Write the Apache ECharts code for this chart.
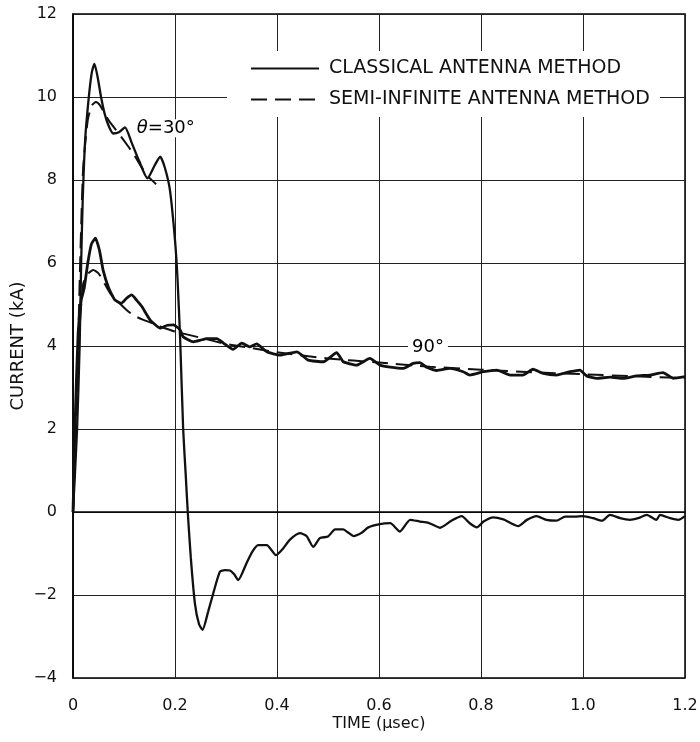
<!DOCTYPE html>
<html>
<head>
<meta charset="utf-8">
<script src="https://cdn.jsdelivr.net/npm/echarts@6/dist/echarts.min.js"></script>
<style>html,body{margin:0;padding:0;background:#fff}#c{width:700px;height:742px}</style>
</head>
<body>
<div id="c"></div>
<script>
// Classical antenna method, theta = 30 deg
const cl30_t = [0, 0.008, 0.013, 0.016, 0.019, 0.024, 0.031, 0.037, 0.042, 0.048, 0.055, 0.062, 0.07, 0.079, 0.09, 0.102, 0.115, 0.13, 0.146, 0.16, 0.171, 0.18, 0.19, 0.2, 0.205, 0.21, 0.216, 0.221, 0.225, 0.231, 0.239, 0.247, 0.254, 0.265, 0.275, 0.288, 0.298, 0.308, 0.316, 0.324, 0.34, 0.352, 0.363, 0.38, 0.398, 0.412, 0.425, 0.445, 0.458, 0.471, 0.484, 0.5, 0.514, 0.53, 0.54, 0.55, 0.566, 0.579, 0.602, 0.622, 0.641, 0.661, 0.68, 0.697, 0.72, 0.742, 0.762, 0.778, 0.792, 0.805, 0.824, 0.844, 0.857, 0.873, 0.89, 0.909, 0.928, 0.948, 0.965, 0.984, 1.0, 1.02, 1.037, 1.053, 1.073, 1.092, 1.108, 1.125, 1.144, 1.151, 1.171, 1.187, 1.2];
const cl30_i = [0, 2, 4, 6, 7.5, 9, 10, 10.6, 10.8, 10.5, 10, 9.6, 9.3, 9.12, 9.15, 9.27, 8.9, 8.45, 8.04, 8.35, 8.56, 8.3, 7.76, 6.55, 5.6, 4.2, 2.0, 0.9, 0.0, -1.1, -2.2, -2.7, -2.84, -2.4, -1.96, -1.44, -1.4, -1.41, -1.5, -1.64, -1.24, -0.95, -0.8, -0.8, -1.04, -0.88, -0.67, -0.51, -0.58, -0.84, -0.63, -0.59, -0.42, -0.42, -0.5, -0.58, -0.5, -0.37, -0.29, -0.27, -0.47, -0.19, -0.23, -0.26, -0.38, -0.21, -0.1, -0.27, -0.37, -0.23, -0.13, -0.18, -0.26, -0.34, -0.19, -0.1, -0.19, -0.21, -0.11, -0.11, -0.1, -0.15, -0.21, -0.07, -0.15, -0.19, -0.15, -0.07, -0.19, -0.07, -0.15, -0.19, -0.1];

// Semi-infinite antenna method, theta = 30 deg
const si30_t = [0, 0.008, 0.014, 0.02, 0.029, 0.037, 0.045, 0.053, 0.062, 0.072, 0.088, 0.1, 0.118, 0.138, 0.15, 0.163];
const si30_i = [0, 3, 6, 8.3, 9.45, 9.8, 9.88, 9.8, 9.6, 9.4, 9.15, 8.95, 8.64, 8.24, 8.05, 7.9];

// Classical antenna method, theta = 90 deg
const cl90_t = [0, 0.005, 0.01, 0.016, 0.022, 0.029, 0.036, 0.044, 0.052, 0.059, 0.07, 0.082, 0.095, 0.105, 0.115, 0.125, 0.135, 0.151, 0.171, 0.185, 0.197, 0.21, 0.216, 0.236, 0.25, 0.262, 0.282, 0.295, 0.314, 0.331, 0.347, 0.36, 0.38, 0.406, 0.439, 0.461, 0.491, 0.517, 0.53, 0.556, 0.582, 0.602, 0.622, 0.648, 0.667, 0.68, 0.693, 0.713, 0.739, 0.765, 0.778, 0.805, 0.831, 0.857, 0.882, 0.902, 0.922, 0.948, 0.975, 0.994, 1.007, 1.027, 1.053, 1.079, 1.105, 1.131, 1.157, 1.177, 1.2];
const cl90_i = [0, 2.5, 4.3, 5.1, 5.4, 6.0, 6.45, 6.6, 6.3, 5.83, 5.4, 5.11, 5.03, 5.15, 5.23, 5.1, 4.95, 4.63, 4.43, 4.5, 4.51, 4.39, 4.22, 4.1, 4.14, 4.18, 4.18, 4.07, 3.92, 4.07, 3.98, 4.05, 3.86, 3.78, 3.86, 3.66, 3.62, 3.84, 3.62, 3.54, 3.7, 3.54, 3.49, 3.46, 3.58, 3.6, 3.49, 3.41, 3.46, 3.38, 3.3, 3.38, 3.42, 3.3, 3.3, 3.44, 3.34, 3.3, 3.38, 3.42, 3.28, 3.22, 3.25, 3.22, 3.28, 3.3, 3.36, 3.22, 3.26];

// Semi-infinite antenna method, theta = 90 deg
const si90_t = [0, 0.012, 0.02, 0.03, 0.04, 0.05, 0.06, 0.073, 0.09, 0.105, 0.12, 0.138, 0.155, 0.171, 0.2, 0.25, 0.3, 0.35, 0.4, 0.5, 0.6, 0.7, 0.8, 0.9, 1.0, 1.1, 1.2];
const si90_i = [0, 4.2, 5.5, 5.75, 5.83, 5.75, 5.55, 5.27, 5.05, 4.87, 4.73, 4.63, 4.55, 4.47, 4.35, 4.2, 4.05, 3.95, 3.85, 3.7, 3.6, 3.5, 3.43, 3.37, 3.32, 3.27, 3.23];

// Curve annotations
const note_t = [0.182, 0.696];
const note_i = [9.25, 3.98];
const note_text = ['{i|θ}=30°', '90°'];

const xTicks = [0, 0.2, 0.4, 0.6, 0.8, 1.0, 1.2];
const yTicks = [-4, -2, 0, 2, 4, 6, 8, 10, 12];

const SOLID = 'CLASSICAL ANTENNA METHOD';
const DASHED = 'SEMI-INFINITE ANTENNA METHOD';
const FONT = 'DejaVu Sans';
const INK = '#111';

const zip = (t, v) => t.map((x, k) => [x, v[k]]);

const chart = echarts.init(document.getElementById('c'), null, {renderer: 'canvas'});
chart.setOption({
  backgroundColor: '#fff',
  animation: false,
  grid: {left: 73, right: 15, top: 14, bottom: 64, outerBoundsMode: 'none', containLabel: false,
    show: true, borderColor: '#000', borderWidth: 1.5, backgroundColor: 'transparent'},
  xAxis: {
    type: 'value', min: xTicks[0], max: xTicks[xTicks.length - 1], interval: 0.2,
    name: 'TIME (μsec)', nameLocation: 'middle', nameGap: 38, nameMoveOverlap: false,
    nameTextStyle: {fontFamily: FONT, fontSize: 16, color: INK},
    axisLine: {show: true, lineStyle: {color: '#000', width: 1.5}},
    axisTick: {show: false},
    axisLabel: {margin: 20, fontFamily: FONT, fontSize: 16, color: INK,
      formatter: v => Math.abs(v) < 1e-9 ? '0' : v.toFixed(1)},
    splitLine: {show: true, lineStyle: {color: '#222', width: 1}}
  },
  yAxis: {
    type: 'value', min: yTicks[0], max: yTicks[yTicks.length - 1], interval: 2,
    name: 'CURRENT (kA)', nameLocation: 'middle', nameGap: 46, nameRotate: 90, nameMoveOverlap: false,
    nameTextStyle: {fontFamily: FONT, fontSize: 18, color: INK},
    axisLine: {show: true, lineStyle: {color: '#000', width: 1.5}},
    axisTick: {show: false},
    axisLabel: {margin: 16, fontFamily: FONT, fontSize: 16, color: INK,
      formatter: v => v < 0 ? '\u2212' + (-v) : String(v)},
    splitLine: {show: true, lineStyle: {color: '#222', width: 1}}
  },
  legend: {
    data: [SOLID, DASHED], orient: 'vertical', left: 227, top: 51,
    backgroundColor: '#fff', padding: [8, 10, 8, 23],
    itemWidth: 68, itemHeight: 14, itemGap: 12,
    itemStyle: {opacity: 0},
    textStyle: {fontFamily: FONT, fontSize: 19, color: INK, padding: [0, 0, 0, 5]}
  },
  series: [
    {name: SOLID, type: 'line', data: zip(cl30_t, cl30_i), symbol: 'none', smooth: 0.2,
      lineStyle: {color: INK, width: 2.3, type: 'solid'}, itemStyle: {color: INK}},
    {name: DASHED, type: 'line', data: zip(si30_t, si30_i), symbol: 'none', smooth: 0.2,
      lineStyle: {color: INK, width: 2, type: [16, 8]}, itemStyle: {color: INK}},
    {name: SOLID, type: 'line', data: zip(cl90_t, cl90_i), symbol: 'none', smooth: 0.15,
      lineStyle: {color: INK, width: 2.8, type: 'solid'}, itemStyle: {color: INK}},
    {name: DASHED, type: 'line', data: zip(si90_t, si90_i), symbol: 'none', smooth: 0.2,
      lineStyle: {color: INK, width: 2, type: [16, 8]}, itemStyle: {color: INK}},
    {name: 'notes', type: 'scatter', symbolSize: 0, z: 5, silent: true,
      itemStyle: {color: INK, opacity: 1},
      data: note_t.map((x, k) => ({value: [x, note_i[k]], text: note_text[k]})),
      label: {show: true, position: 'inside', fontFamily: FONT, fontSize: 18, color: '#000', opacity: 1,
        backgroundColor: '#fff', padding: [0, 4],
        formatter: p => p.data.text,
        rich: {i: {fontFamily: FONT, fontSize: 18, fontStyle: 'italic', color: '#000'}}}}
  ]
});
</script>
</body>
</html>
